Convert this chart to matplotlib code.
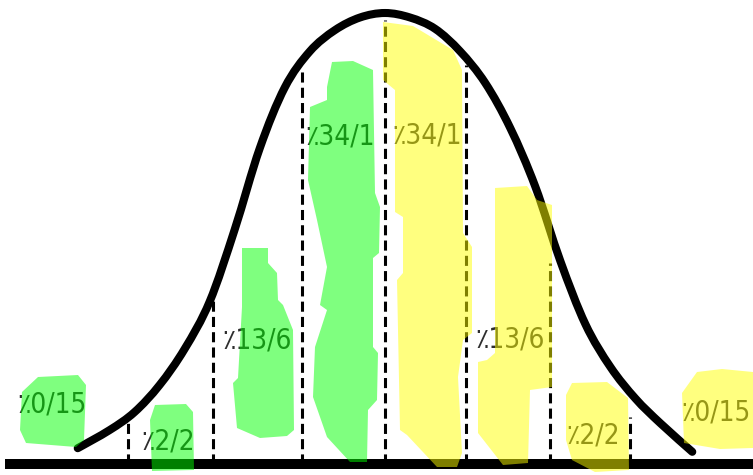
import matplotlib
matplotlib.use("Agg")
import matplotlib.pyplot as plt
from matplotlib.patches import Polygon, PathPatch
from matplotlib.path import Path

# bell curve (x in sigma units, height relative to the peak)
curve_z = [-3.68, -3.3, -3.0, -2.7, -2.4, -2.1, -1.8, -1.5, -1.2, -0.9, -0.6, -0.3, 0.0,
           0.3, 0.6, 0.9, 1.2, 1.5, 1.8, 2.1, 2.4, 2.7, 3.0, 3.3, 3.68]
curve_h = [0.035, 0.075, 0.115, 0.175, 0.255, 0.36, 0.52, 0.70, 0.835, 0.915, 0.962, 0.99, 1.0,
           0.99, 0.965, 0.915, 0.845, 0.745, 0.615, 0.45, 0.31, 0.215, 0.145, 0.09, 0.027]

# dashed sigma lines and where they stop
sigma_pos = [-3.08, -2.06, -0.99, 0.0, 0.97, 1.98, 2.93]
sigma_top = [0.091, 0.379, 0.874, 0.984, 0.885, 0.446, 0.104]

# percentages (persian style)
labels = ["٪0/15", "٪2/2", "٪13/6", "٪34/1", "٪34/1", "٪13/6", "٪2/2", "٪0/15"]
label_z = [-3.99, -2.60, -1.53, -0.54, 0.51, 1.50, 2.49, 3.96]
label_h = [0.131, 0.049, 0.273, 0.727, 0.729, 0.277, 0.064, 0.115]


def px(x, y):
    # picture pixel -> data coords
    return ((x - 385) / 83.5, (464 - y) / 451.0)


# hand painted highlighter marks, outlined in picture pixels
green_blobs = [
    [(38, 377), (78, 375), (86, 385), (84, 440), (76, 447), (26, 443), (20, 430), (22, 392)],
    [(155, 405), (186, 404), (193, 412), (194, 470), (152, 471), (150, 420)],
    [(242, 248), (268, 248), (268, 263), (277, 273), (278, 300), (283, 305), (293, 330), (294, 430),
     (287, 436), (260, 438), (237, 428), (233, 383), (238, 378), (242, 307)],
    [(332, 62), (353, 61), (373, 70), (375, 193), (380, 207), (379, 253), (373, 258), (373, 347),
     (378, 353), (377, 400), (368, 410), (367, 462), (350, 462), (327, 437), (313, 397), (315, 347),
     (327, 310), (320, 305), (327, 267), (317, 220), (308, 180), (310, 107), (327, 100), (327, 87)],
]
yellow_blobs = [
    [(383, 22), (413, 26), (453, 50), (462, 70), (463, 233), (472, 247), (472, 333), (463, 340),
     (458, 377), (462, 453), (457, 467), (437, 467), (407, 435), (400, 430), (397, 280), (403, 273),
     (403, 217), (395, 212), (395, 90), (383, 80)],
    [(495, 188), (527, 186), (537, 200), (552, 205), (552, 387), (530, 390), (528, 463), (503, 465),
     (478, 433), (478, 362), (487, 360), (495, 353)],
    [(572, 383), (607, 382), (628, 398), (629, 470), (595, 472), (572, 460), (566, 440), (566, 395)],
    [(697, 372), (722, 369), (753, 372), (753, 448), (720, 449), (684, 443), (682, 393)],
]

fig = plt.figure(figsize=(7.53, 4.75), dpi=100)
ax = fig.add_axes([0, 0, 1, 1])
ax.set_xlim(px(0, 0)[0], px(753, 0)[0])
ax.set_ylim(px(0, 475)[1], px(0, 0)[1])
ax.axis("off")

# baseline
x0, _ = px(5, 0)
x1, _ = px(753, 0)
ax.plot([x0, x1], [0, 0], color="black", lw=7.2, solid_capstyle="butt", zorder=3)

# curve: catmull-rom style bezier through the read points
pts = list(zip(curve_z, curve_h))
n = len(pts)
verts = [pts[0]]
codes = [Path.MOVETO]
for i in range(n - 1):
    p0 = pts[max(i - 1, 0)]
    p1 = pts[i]
    p2 = pts[i + 1]
    p3 = pts[min(i + 2, n - 1)]
    c1 = (p1[0] + (p2[0] - p0[0]) / 6, p1[1] + (p2[1] - p0[1]) / 6)
    c2 = (p2[0] - (p3[0] - p1[0]) / 6, p2[1] - (p3[1] - p1[1]) / 6)
    verts += [c1, c2, p2]
    codes += [Path.CURVE4] * 3
ax.add_patch(PathPatch(Path(verts, codes), facecolor="none", edgecolor="black", lw=5.8,
                       capstyle="round", joinstyle="round", zorder=3))

# sigma lines
for z, top in zip(sigma_pos, sigma_top):
    ax.plot([z, z], [0, top], color="black", lw=2.2, dashes=(3.3, 1.7), zorder=2)

for txt, z, h in zip(labels, label_z, label_h):
    ax.text(z, h, txt, ha="center", va="center", fontsize=20, color="#2e2e2e",
            family="DejaVu Sans", fontstretch="condensed", zorder=4)

for blob in green_blobs:
    ax.add_patch(Polygon([px(x, y) for x, y in blob], closed=True, facecolor=(0, 1, 0),
                         edgecolor="none", alpha=0.5, zorder=10))
for blob in yellow_blobs:
    ax.add_patch(Polygon([px(x, y) for x, y in blob], closed=True, facecolor=(1, 1, 0),
                         edgecolor="none", alpha=0.5, zorder=10))

fig.savefig("out.png", dpi=100)
